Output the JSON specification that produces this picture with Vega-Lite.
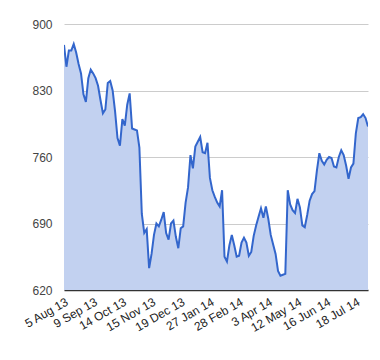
{
  "$schema": "https://vega.github.io/schema/vega-lite/v6.json",
  "width": 304,
  "height": 266,
  "autosize": {"type": "none"},
  "padding": {"left": 64, "top": 24, "right": 12, "bottom": 70},
  "background": "white",
  "config": {"view": {"stroke": null}, "font": "Liberation Sans"},
  "data": {"values": [
    {"date": "5 Aug 13", "price": 878}, {"date": "7 Aug 13", "price": 855}, {"date": "9 Aug 13", "price": 872},
    {"date": "13 Aug 13", "price": 872}, {"date": "15 Aug 13", "price": 879}, {"date": "19 Aug 13", "price": 870},
    {"date": "21 Aug 13", "price": 858}, {"date": "23 Aug 13", "price": 848}, {"date": "28 Aug 13", "price": 826},
    {"date": "30 Aug 13", "price": 818}, {"date": "3 Sep 13", "price": 843}, {"date": "5 Sep 13", "price": 852},
    {"date": "9 Sep 13", "price": 848}, {"date": "11 Sep 13", "price": 843}, {"date": "13 Sep 13", "price": 835},
    {"date": "17 Sep 13", "price": 820}, {"date": "19 Sep 13", "price": 806}, {"date": "23 Sep 13", "price": 810},
    {"date": "25 Sep 13", "price": 838}, {"date": "27 Sep 13", "price": 840}, {"date": "1 Oct 13", "price": 830},
    {"date": "3 Oct 13", "price": 808}, {"date": "7 Oct 13", "price": 780}, {"date": "9 Oct 13", "price": 772},
    {"date": "14 Oct 13", "price": 800}, {"date": "16 Oct 13", "price": 793}, {"date": "18 Oct 13", "price": 815},
    {"date": "22 Oct 13", "price": 827}, {"date": "24 Oct 13", "price": 790}, {"date": "28 Oct 13", "price": 789},
    {"date": "30 Oct 13", "price": 788}, {"date": "1 Nov 13", "price": 770}, {"date": "5 Nov 13", "price": 700},
    {"date": "7 Nov 13", "price": 680}, {"date": "11 Nov 13", "price": 684}, {"date": "13 Nov 13", "price": 643},
    {"date": "15 Nov 13", "price": 658}, {"date": "19 Nov 13", "price": 678}, {"date": "21 Nov 13", "price": 690},
    {"date": "25 Nov 13", "price": 687}, {"date": "27 Nov 13", "price": 694}, {"date": "29 Nov 13", "price": 702},
    {"date": "3 Dec 13", "price": 680}, {"date": "5 Dec 13", "price": 673}, {"date": "9 Dec 13", "price": 690},
    {"date": "11 Dec 13", "price": 693}, {"date": "13 Dec 13", "price": 676}, {"date": "17 Dec 13", "price": 664},
    {"date": "19 Dec 13", "price": 685}, {"date": "23 Dec 13", "price": 687}, {"date": "27 Dec 13", "price": 712},
    {"date": "31 Dec 13", "price": 728}, {"date": "3 Jan 14", "price": 762}, {"date": "7 Jan 14", "price": 748},
    {"date": "9 Jan 14", "price": 771}, {"date": "13 Jan 14", "price": 776}, {"date": "15 Jan 14", "price": 781},
    {"date": "17 Jan 14", "price": 765}, {"date": "21 Jan 14", "price": 764}, {"date": "23 Jan 14", "price": 775},
    {"date": "27 Jan 14", "price": 738}, {"date": "29 Jan 14", "price": 725}, {"date": "31 Jan 14", "price": 718},
    {"date": "4 Feb 14", "price": 712}, {"date": "6 Feb 14", "price": 708}, {"date": "10 Feb 14", "price": 725},
    {"date": "12 Feb 14", "price": 655}, {"date": "14 Feb 14", "price": 650}, {"date": "18 Feb 14", "price": 667},
    {"date": "20 Feb 14", "price": 678}, {"date": "24 Feb 14", "price": 667}, {"date": "26 Feb 14", "price": 655},
    {"date": "28 Feb 14", "price": 656}, {"date": "4 Mar 14", "price": 670}, {"date": "6 Mar 14", "price": 675},
    {"date": "10 Mar 14", "price": 670}, {"date": "12 Mar 14", "price": 656}, {"date": "14 Mar 14", "price": 660},
    {"date": "18 Mar 14", "price": 677}, {"date": "20 Mar 14", "price": 688}, {"date": "24 Mar 14", "price": 697},
    {"date": "26 Mar 14", "price": 706}, {"date": "28 Mar 14", "price": 696}, {"date": "1 Apr 14", "price": 708},
    {"date": "3 Apr 14", "price": 695}, {"date": "7 Apr 14", "price": 678}, {"date": "9 Apr 14", "price": 668},
    {"date": "11 Apr 14", "price": 658}, {"date": "15 Apr 14", "price": 640}, {"date": "17 Apr 14", "price": 635},
    {"date": "23 Apr 14", "price": 636}, {"date": "25 Apr 14", "price": 637}, {"date": "29 Apr 14", "price": 725},
    {"date": "1 May 14", "price": 710}, {"date": "6 May 14", "price": 704}, {"date": "8 May 14", "price": 701},
    {"date": "12 May 14", "price": 716}, {"date": "14 May 14", "price": 707}, {"date": "16 May 14", "price": 688},
    {"date": "20 May 14", "price": 686}, {"date": "22 May 14", "price": 699}, {"date": "27 May 14", "price": 714},
    {"date": "29 May 14", "price": 721}, {"date": "2 Jun 14", "price": 724}, {"date": "4 Jun 14", "price": 746},
    {"date": "6 Jun 14", "price": 764}, {"date": "10 Jun 14", "price": 756}, {"date": "12 Jun 14", "price": 752},
    {"date": "16 Jun 14", "price": 757}, {"date": "18 Jun 14", "price": 760}, {"date": "20 Jun 14", "price": 759},
    {"date": "24 Jun 14", "price": 750}, {"date": "26 Jun 14", "price": 749}, {"date": "30 Jun 14", "price": 760},
    {"date": "2 Jul 14", "price": 767}, {"date": "4 Jul 14", "price": 762}, {"date": "8 Jul 14", "price": 751},
    {"date": "10 Jul 14", "price": 737}, {"date": "14 Jul 14", "price": 749}, {"date": "16 Jul 14", "price": 753},
    {"date": "18 Jul 14", "price": 785}, {"date": "22 Jul 14", "price": 801}, {"date": "24 Jul 14", "price": 802},
    {"date": "28 Jul 14", "price": 805}, {"date": "30 Jul 14", "price": 801}, {"date": "1 Aug 14", "price": 792}
  ]},
  "encoding": {
    "x": {
      "field": "date", "type": "ordinal", "sort": null,
      "scale": {"type": "point", "padding": 0},
      "axis": {
        "title": null,
        "values": ["5 Aug 13", "9 Sep 13", "14 Oct 13", "15 Nov 13", "19 Dec 13", "27 Jan 14", "28 Feb 14", "3 Apr 14", "12 May 14", "16 Jun 14", "18 Jul 14"],
        "labelAngle": -30, "labelAlign": "right", "labelBaseline": "top",
        "labelFontSize": 12, "labelColor": "#222", "labelPadding": 6,
        "ticks": false, "grid": false,
        "domain": true, "domainColor": "#333", "domainWidth": 1.5,
        "labelOverlap": false
      }
    },
    "y": {
      "field": "price", "type": "quantitative",
      "scale": {"domain": [620, 900], "zero": false, "nice": false},
      "axis": {
        "title": null, "values": [620, 690, 760, 830, 900],
        "labelFontSize": 12, "labelColor": "#444", "labelPadding": 12,
        "ticks": false, "domain": false, "grid": true, "gridColor": "#cccccc"
      }
    }
  },
  "layer": [
    {"mark": {"type": "area", "color": "#c2d1f0", "opacity": 1, "clip": true}},
    {"mark": {"type": "line", "color": "#3366cc", "strokeWidth": 2, "clip": true}}
  ]
}
